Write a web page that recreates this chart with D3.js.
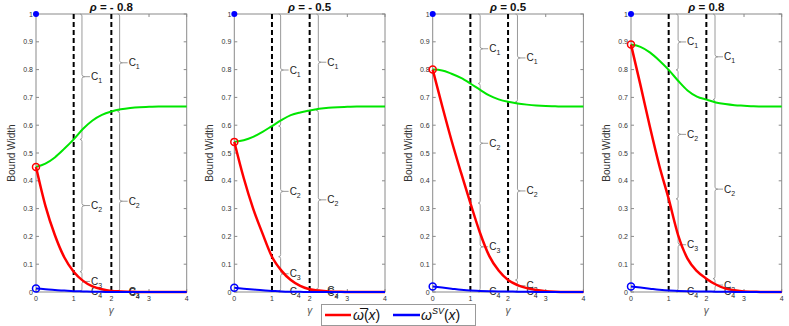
<!DOCTYPE html>
<html>
<head>
<meta charset="utf-8">
<script src="https://d3js.org/d3.v7.min.js"></script>
<title>Bound Width</title>
<style>
body { margin: 0; background: #fff; }
text { font-family: "Liberation Sans", Arial, sans-serif; }
</style>
</head>
<body>
<script>

// gamma grid shared by all panels
var gamma = [0, 0.25, 0.5, 0.75, 1, 1.25, 1.5, 1.75, 2, 2.25, 2.5, 2.75, 3, 3.25, 3.5, 3.75, 4];
var rhoLabels = ["- 0.8", "- 0.5", "0.5", "0.8"];
var yTicks = [0, 0.1, 0.2, 0.3, 0.4, 0.5, 0.6, 0.7, 0.8, 0.9, 1];
var xTicks = [0, 1, 2, 3, 4];
var dashedAt = [1, 2];
var braceLabels = ["1", "2", "3", "4"];

// green curves
var green1 = [0.45, 0.462, 0.484, 0.515, 0.549, 0.587, 0.617, 0.637, 0.649, 0.657, 0.662, 0.665, 0.666, 0.667, 0.667, 0.667, 0.667];
var green2 = [0.54, 0.546, 0.558, 0.576, 0.597, 0.618, 0.636, 0.646, 0.653, 0.659, 0.663, 0.665, 0.666, 0.667, 0.667, 0.667, 0.667];
var green3 = [0.80, 0.797, 0.785, 0.77, 0.75, 0.728, 0.707, 0.693, 0.684, 0.678, 0.674, 0.671, 0.669, 0.668, 0.667, 0.667, 0.667];
var green4 = [0.89, 0.882, 0.862, 0.833, 0.799, 0.76, 0.725, 0.703, 0.692, 0.682, 0.676, 0.672, 0.67, 0.668, 0.667, 0.667, 0.667];

// red curves (omega bar)
var red1 = [0.45, 0.31, 0.205, 0.125, 0.073, 0.04, 0.02, 0.01, 0.004, 0.002, 0.001, 0, 0, 0, 0, 0, 0];
var red2 = [0.54, 0.41, 0.30, 0.21, 0.127, 0.077, 0.043, 0.022, 0.01, 0.005, 0.002, 0.001, 0, 0, 0, 0, 0];
var red3 = [0.80, 0.67, 0.545, 0.43, 0.32, 0.215, 0.13, 0.077, 0.043, 0.025, 0.014, 0.007, 0.003, 0.001, 0, 0, 0];
var red4 = [0.89, 0.745, 0.595, 0.455, 0.335, 0.205, 0.12, 0.075, 0.048, 0.027, 0.013, 0.006, 0.002, 0.001, 0, 0, 0];

// blue curves (omega SV)
var blue1 = [0.013, 0.01, 0.007, 0.005, 0.003, 0.002, 0.001, 0.0005, 0, 0, 0, 0, 0, 0, 0, 0, 0];
var blue2 = [0.015, 0.012, 0.009, 0.006, 0.004, 0.002, 0.001, 0.0005, 0, 0, 0, 0, 0, 0, 0, 0, 0];
var blue3 = [0.02, 0.016, 0.012, 0.008, 0.005, 0.004, 0.003, 0.002, 0.002, 0.001, 0.001, 0, 0, 0, 0, 0, 0];
var blue4 = [0.02, 0.016, 0.012, 0.008, 0.005, 0.004, 0.003, 0.002, 0.002, 0.001, 0.001, 0, 0, 0, 0, 0, 0];

// where the braces sit (gamma), per panel
var braceX = [[1.22, 2.22], [1.23, 2.23], [1.26, 2.25], [1.25, 2.23]];

var greens = [green1, green2, green3, green4],
    reds = [red1, red2, red3, red4],
    blues = [blue1, blue2, blue3, blue4];

var W = 789, H = 326;
var panelLeft = [36, 234.3, 432.7, 631],
    panelW = 150.7,
    plotTop = 14, plotBottom = 292;

var svg = d3.select("body").append("svg")
    .attr("width", W)
    .attr("height", H);

var y = d3.scaleLinear().domain([0, 1]).range([plotBottom, plotTop]);

panelLeft.forEach(function(x0, p) {
  var x = d3.scaleLinear().domain([0, 4]).range([x0, x0 + panelW]);
  var g = svg.append("g");

  // box
  g.append("rect")
      .attr("x", x0).attr("y", plotTop)
      .attr("width", panelW).attr("height", plotBottom - plotTop)
      .attr("fill", "none").attr("stroke", "#8a8a8a").attr("stroke-width", 1);

  // y ticks + labels (ticks inside on both sides)
  yTicks.forEach(function(t) {
    g.append("line").attr("x1", x0).attr("x2", x0 + 3).attr("y1", y(t)).attr("y2", y(t))
        .attr("stroke", "#8a8a8a");
    g.append("line").attr("x1", x0 + panelW - 3).attr("x2", x0 + panelW).attr("y1", y(t)).attr("y2", y(t))
        .attr("stroke", "#8a8a8a");
    g.append("text")
        .attr("x", x0 - 3).attr("y", y(t) + 2.5)
        .attr("text-anchor", "end")
        .attr("font-size", "7px").attr("fill", "#333")
        .text(t === 0 ? "0" : (t === 1 ? "1" : t.toFixed(1)));
  });

  xTicks.forEach(function(t) {
    g.append("line").attr("x1", x(t)).attr("x2", x(t)).attr("y1", plotBottom).attr("y2", plotBottom - 3)
        .attr("stroke", "#8a8a8a");
    g.append("line").attr("x1", x(t)).attr("x2", x(t)).attr("y1", plotTop).attr("y2", plotTop + 3)
        .attr("stroke", "#8a8a8a");
    g.append("text")
        .attr("x", x(t)).attr("y", 301)
        .attr("text-anchor", "middle")
        .attr("font-size", "7px").attr("fill", "#333")
        .text(t);
  });

  // axis titles
  g.append("text")
      .attr("transform", "translate(" + (x0 - 21) + "," + ((plotTop + plotBottom) / 2) + ") rotate(-90)")
      .attr("text-anchor", "middle")
      .attr("font-size", "10px").attr("fill", "#333")
      .text("Bound Width");

  g.append("text")
      .attr("x", x(2)).attr("y", 314)
      .attr("text-anchor", "middle")
      .attr("font-family", "DejaVu Serif, serif").attr("font-style", "italic")
      .attr("font-size", "10px").attr("fill", "#555")
      .text("γ");

  var title = g.append("text")
      .attr("x", x(2)).attr("y", 11)
      .attr("text-anchor", "middle")
      .attr("font-size", "11.5px").attr("font-weight", "bold").attr("fill", "#111");
  title.append("tspan").attr("font-style", "italic").text("ρ");
  title.append("tspan").text(" = " + rhoLabels[p]);

  // braces
  dashedAt.forEach(function(gv, k) {
    var i = gamma.indexOf(gv);
    var bounds = [1, greens[p][i], reds[p][i], blues[p][i], 0];
    var bx = x(braceX[p][k]);
    for (var s = 0; s < 4; s++) {
      var yT = y(bounds[s]), yB = y(bounds[s + 1]), yM = (yT + yB) / 2;
      var r = Math.min(2, (yB - yT) / 4);
      var path = "M" + (bx - 2) + "," + yT +
        " Q" + bx + "," + yT + " " + bx + "," + (yT + r) +
        " L" + bx + "," + (yM - r) +
        " Q" + bx + "," + yM + " " + (bx + 3) + "," + yM +
        " Q" + bx + "," + yM + " " + bx + "," + (yM + r) +
        " L" + bx + "," + (yB - r) +
        " Q" + bx + "," + yB + " " + (bx - 2) + "," + yB;
      g.append("path").attr("d", path)
          .attr("fill", "none").attr("stroke", "#9a9a9a").attr("stroke-width", 1);
      g.append("line").attr("x1", bx + 3).attr("x2", bx + 8).attr("y1", yM).attr("y2", yM)
          .attr("stroke", "#9a9a9a").attr("stroke-width", 1);
      var lab = g.append("text")
          .attr("x", bx + 9).attr("y", yM + 3.5)
          .attr("font-size", "10px").attr("fill", "#222");
      lab.append("tspan").text("C");
      lab.append("tspan").attr("dy", 3).attr("font-size", "7px").text(braceLabels[s]);
    }
  });

  // dashed lines
  dashedAt.forEach(function(gv) {
    g.append("line")
        .attr("x1", x(gv)).attr("x2", x(gv))
        .attr("y1", plotTop).attr("y2", plotBottom)
        .attr("stroke", "#000").attr("stroke-width", 2)
        .attr("stroke-dasharray", "5,3");
  });

  var line = function(vals) {
    return d3.line()
      .x(function(d, i) { return x(gamma[i]); })
      .y(function(d) { return y(d); })
      .curve(d3.curveMonotoneX)(vals);
  };

  g.append("path").attr("d", line(greens[p]))
      .attr("fill", "none").attr("stroke", "#00e600").attr("stroke-width", 2);
  g.append("path").attr("d", line(reds[p]))
      .attr("fill", "none").attr("stroke", "#ff0000").attr("stroke-width", 2.5);
  g.append("path").attr("d", line(blues[p]))
      .attr("fill", "none").attr("stroke", "#0000ff").attr("stroke-width", 2);

  // markers at gamma = 0
  g.append("circle").attr("cx", x(0)).attr("cy", y(1)).attr("r", 3)
      .attr("fill", "#0000ff");
  g.append("circle").attr("cx", x(0)).attr("cy", y(reds[p][0])).attr("r", 3.5)
      .attr("fill", "none").attr("stroke", "#ff0000").attr("stroke-width", 1.5);
  g.append("circle").attr("cx", x(0)).attr("cy", y(blues[p][0])).attr("r", 3.5)
      .attr("fill", "none").attr("stroke", "#0000ff").attr("stroke-width", 1.5);
});

// legend
var lg = svg.append("g");
lg.append("rect").attr("x", 321.5).attr("y", 304.5).attr("width", 154).attr("height", 21)
    .attr("fill", "#fff").attr("stroke", "#999");
lg.append("line").attr("x1", 325).attr("x2", 351).attr("y1", 315).attr("y2", 315)
    .attr("stroke", "#ff0000").attr("stroke-width", 2.5);
var t1 = lg.append("text").attr("x", 353).attr("y", 320)
    .attr("font-family", "DejaVu Serif, serif").attr("font-size", "14px").attr("fill", "#111");
t1.append("tspan").attr("font-style", "italic").text("ω\u0305");
t1.append("tspan").text("(");
t1.append("tspan").attr("font-style", "italic").text("x");
t1.append("tspan").text(")");
lg.append("line").attr("x1", 393).attr("x2", 420).attr("y1", 315).attr("y2", 315)
    .attr("stroke", "#0000ff").attr("stroke-width", 2.5);
var t2 = lg.append("text").attr("x", 421).attr("y", 320)
    .attr("font-family", "DejaVu Serif, serif").attr("font-size", "14px").attr("fill", "#111");
t2.append("tspan").attr("font-style", "italic").text("ω");
t2.append("tspan").attr("font-style", "italic").attr("font-size", "9px").attr("dy", -6).text("SV");
t2.append("tspan").attr("dy", 6).text("(");
t2.append("tspan").attr("font-style", "italic").text("x");
t2.append("tspan").text(")");

</script>
</body>
</html>
